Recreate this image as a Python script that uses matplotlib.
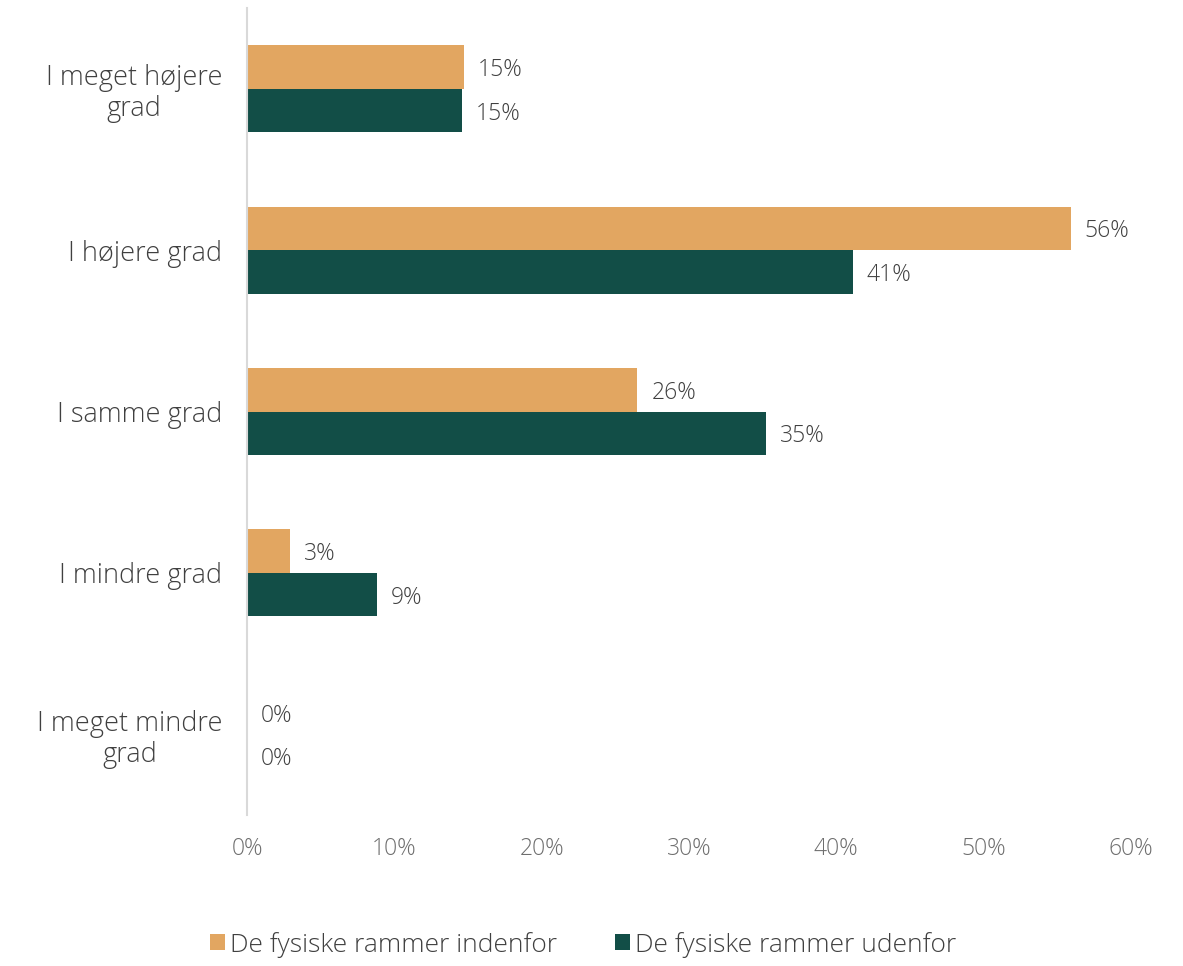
import matplotlib
matplotlib.use("Agg")
import matplotlib.pyplot as plt
import numpy as np

categories = ["I meget højere\ngrad", "I højere grad", "I samme grad", "I mindre grad", "I meget mindre\ngrad"]
series_names = ["De fysiske rammer indenfor", "De fysiske rammer udenfor"]
indenfor = [14.7, 55.9, 26.5, 2.9, 0.0]
udenfor = [14.6, 41.1, 35.2, 8.8, 0.0]
label_indenfor = ["15%", "56%", "26%", "3%", "0%"]
label_udenfor = ["15%", "41%", "35%", "9%", "0%"]
xticks = [0, 10, 20, 30, 40, 50, 60]

colors = ["#E2A661", "#124E47"]
plt.rcParams['font.family'] = ['Open Sans', 'DejaVu Sans']
W = 300

fig = plt.figure(figsize=(11.83, 9.66), dpi=100)
ax = fig.add_axes([0.2088, 0.1563, 0.956 - 0.2088, 0.9917 - 0.1563])

y = np.arange(len(categories))
h = 0.27
b1 = ax.barh(y - h / 2, indenfor, height=h, color=colors[0], label=series_names[0])
b2 = ax.barh(y + h / 2, udenfor, height=h, color=colors[1], label=series_names[1])

for bars, labels in ((b1, label_indenfor), (b2, label_udenfor)):
    for rect, lab in zip(bars, labels):
        ax.annotate(lab, (rect.get_width(), rect.get_y() + rect.get_height() / 2),
                    xytext=(14, -3), textcoords="offset pixels",
                    va="center", ha="left", fontsize=16.5, color="#404040", fontweight=W)

ax.set_xlim(0, 60)
ax.set_ylim(len(categories) - 0.5, -0.5)
ax.set_yticks(y)
ax.set_yticklabels(categories, fontsize=19.5, color="#404040", fontweight=W,
                   ha="right", multialignment="center", linespacing=1.15)
ax.tick_params(axis="y", length=0, pad=18)
ax.set_xticks(xticks)
ax.set_xticklabels([f"{t}%" for t in xticks], fontsize=16.5, color="#6e6e6e", fontweight=W)
ax.tick_params(axis="x", length=0, pad=16)

for s in ["top", "right", "bottom"]:
    ax.spines[s].set_visible(False)
ax.spines["left"].set_color("#d9d9d9")
ax.spines["left"].set_linewidth(1.5)

leg = fig.legend(handles=[b1, b2], labels=series_names, loc="lower center",
                 bbox_to_anchor=(0.493, -0.016), ncol=2, frameon=False,
                 fontsize=19, handlelength=0.55, handleheight=0.55, handletextpad=0.2,
                 columnspacing=2.2)
for t in leg.get_texts():
    t.set_color("#404040")
    t.set_fontweight(W)

fig.savefig("out.png", dpi=100)
